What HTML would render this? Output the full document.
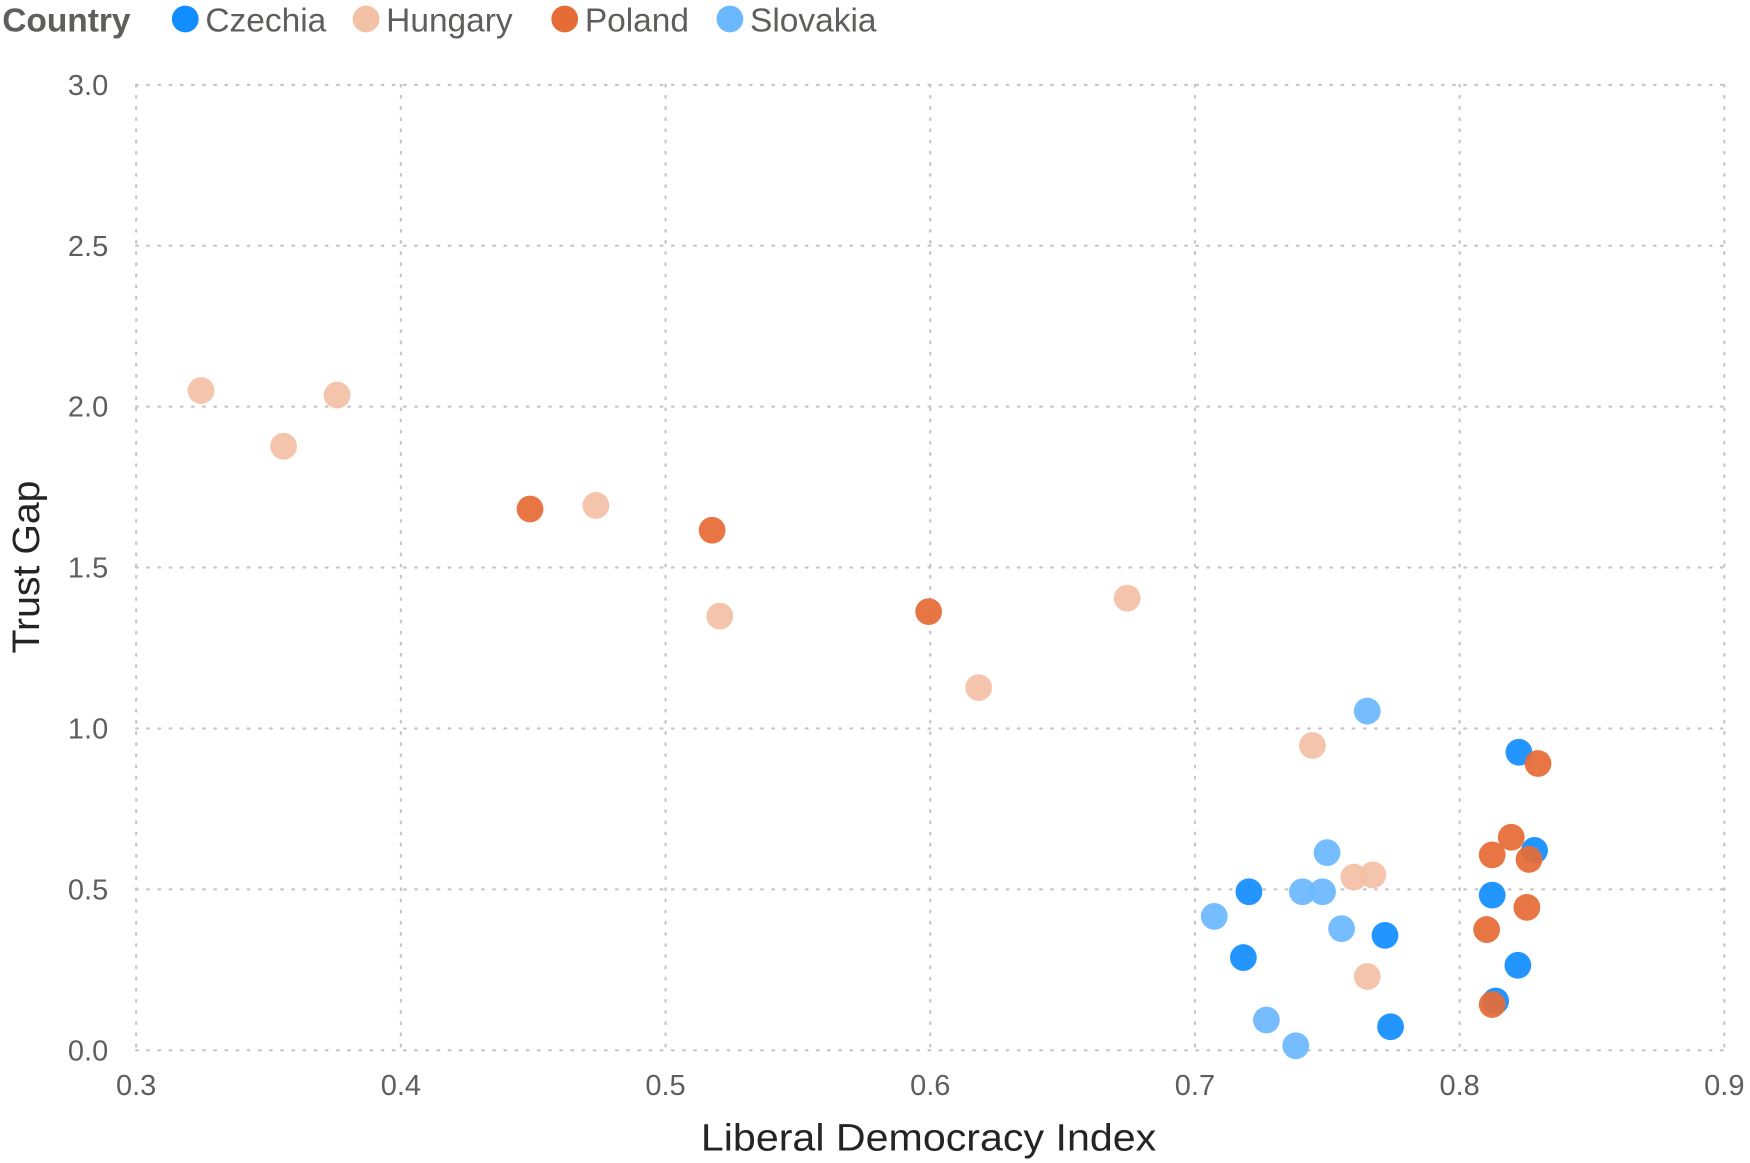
<!DOCTYPE html>
<html><head><meta charset="utf-8"><style>
html,body{margin:0;padding:0;background:#fff;width:1750px;height:1163px;overflow:hidden}
svg{display:block;font-family:"Liberation Sans","DejaVu Sans",sans-serif}
</style></head><body>
<svg id="chart" width="1750" height="1163" viewBox="0 0 1568 1042" xmlns="http://www.w3.org/2000/svg">
<g id="legend"></g>
<g id="grid"></g>
<g id="ticks"></g>
<g id="points"></g>
<text x="832" y="1031" text-anchor="middle" font-size="34" fill="#252423" textLength="408" lengthAdjust="spacingAndGlyphs">Liberal Democracy Index</text>
<text transform="translate(35,508) rotate(-90)" text-anchor="middle" font-size="34" fill="#252423" textLength="155" lengthAdjust="spacingAndGlyphs">Trust Gap</text>
</svg>
<script>
const countries = ["Czechia","Hungary","Poland","Slovakia"];
const colors = ["#118DFF","#F3C1A6","#E66C37","#6BB8FF"];
const xTicks = [0.3,0.4,0.5,0.6,0.7,0.8,0.9];
const yTicks = [0,0.5,1,1.5,2,2.5,3];
const hungaryX = [0.3245,0.3557,0.3759,0.4737,0.5205,0.6744,0.6183,0.7444,0.7600,0.7672,0.7651];
const hungaryY = [2.05,1.877,2.036,1.693,1.349,1.405,1.127,0.947,0.538,0.545,0.229];
const polandX = [0.4488,0.5176,0.5994,0.8296,0.8195,0.8123,0.8262,0.8254,0.8102,0.8123];
const polandY = [1.682,1.616,1.363,0.891,0.662,0.607,0.593,0.444,0.375,0.142];
const czechiaX = [0.7204,0.7183,0.7718,0.7739,0.8224,0.8283,0.8123,0.822,0.8136];
const czechiaY = [0.4925,0.288,0.357,0.073,0.926,0.621,0.482,0.264,0.153];
const slovakiaX = [0.7073,0.7651,0.7499,0.7406,0.7482,0.7554,0.727,0.7381];
const slovakiaY = [0.416,1.054,0.614,0.4925,0.4925,0.378,0.094,0.014];

const NS="http://www.w3.org/2000/svg";
const X0=122,X1=1545,Y0=941,Y1=76;
function sx(v){return X0+(v-0.3)/(0.9-0.3)*(X1-X0);}
function sy(v){return Y0-(v-0)/(3-0)*(Y0-Y1);}
function mk(tag,attrs,parent){const e=document.createElementNS(NS,tag);for(const k in attrs)e.setAttribute(k,attrs[k]);parent.appendChild(e);return e;}

const grid=document.getElementById('grid'),ticks=document.getElementById('ticks'),pts=document.getElementById('points'),leg=document.getElementById('legend');
xTicks.forEach(t=>{
  const l=mk('line',{x1:sx(t),x2:sx(t),y1:Y1,y2:Y0,stroke:'#C8C6C4','stroke-width':2,'stroke-dasharray':'1.5 8.5','stroke-linecap':'round'},grid);
  
  
  const tx=mk('text',{x:sx(t),y:981,'text-anchor':'middle','font-size':26,fill:'#605E5C'},ticks);
  tx.textContent=t.toFixed(1);
  
  
});
yTicks.forEach(t=>{
  const l=mk('line',{x1:X0,x2:X1,y1:sy(t),y2:sy(t),stroke:'#C8C6C4','stroke-width':2,'stroke-dasharray':'1.5 8.5','stroke-linecap':'round'},grid);
  
  
  const tx=mk('text',{x:97,y:sy(t)+9,'text-anchor':'end','font-size':26,fill:'#605E5C'},ticks);
  tx.textContent=t.toFixed(1);
  
  
});
const series=[[czechiaX,czechiaY],[hungaryX,hungaryY],[polandX,polandY],[slovakiaX,slovakiaY]];
const order=[1,3,0,2];
order.forEach(i=>{
  const [xs,ys]=series[i];
  xs.forEach((x,j)=>{
    const c=mk('circle',{cx:sx(x),cy:sy(ys[j]),r:12,fill:colors[i],'fill-opacity':0.93},pts);
    
    
  });
});
const lt=mk('text',{x:2,y:28,'font-size':30,'font-weight':'bold',fill:'#605E5C'},leg);
lt.textContent='Country';


const lx=[166,328,506,654];
countries.forEach((c,i)=>{
  const g=mk('g',{},leg);
  
  
  mk('circle',{cx:lx[i],cy:17,r:12,fill:colors[i]},g);
  const t=mk('text',{x:lx[i]+18,y:28,'font-size':30,fill:'#605E5C'},g);
  t.textContent=c;
});
</script>
</body></html>
